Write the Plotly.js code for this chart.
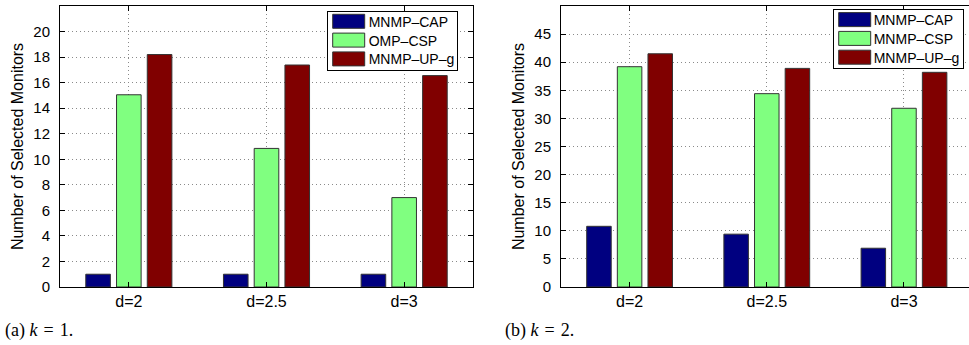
<!DOCTYPE html>
<html><head><meta charset="utf-8">
<script src="https://cdn.plot.ly/plotly-3.0.1.min.js"></script>
<style>html,body{margin:0;padding:0;background:#fff}#chart{width:969px;height:345px}</style>
</head><body><div id="chart"></div>
<script>
const categories = ['d=2', 'd=2.5', 'd=3'];
const seriesNamesA = ['MNMP–CAP', 'OMP–CSP', 'MNMP–UP–g'];
const seriesNamesB = ['MNMP–CAP', 'MNMP–CSP', 'MNMP–UP–g'];
const capA = [1, 1, 1];
const cspA = [15.05, 10.85, 7.0];
const upgA = [18.2, 17.38, 16.55];
const capB = [10.8, 9.4, 6.9];
const cspB = [39.2, 34.4, 31.8];
const upgB = [41.5, 38.9, 38.2];
const yTicksA = [0, 2, 4, 6, 8, 10, 12, 14, 16, 18, 20];
const yTicksB = [0, 5, 10, 15, 20, 25, 30, 35, 40, 45];
const captionA = '(a) <i>k</i>\u2004=\u20041.';
const captionB = '(b) <i>k</i>\u2004=\u20042.';
const colors = ['#000080', '#80FF80', '#800000'];

const W = 969, H = 345;
function bar(name, y, color, xa, ya, lg) {
  return {type: 'bar', name: name, x: categories, y: y, xaxis: xa, yaxis: ya, legend: lg,
    marker: {color: color, line: {color: '#333', width: 1}}, hoverinfo: 'y'};
}
const dataA = [capA, cspA, upgA];
const dataB = [capB, cspB, upgB];
const traces = [];
dataA.forEach((d, i) => traces.push(bar(seriesNamesA[i], d, colors[i], 'x', 'y', 'legend')));
dataB.forEach((d, i) => traces.push(bar(seriesNamesB[i], d, colors[i], 'x2', 'y2', 'legend2')));

const font = 'Liberation Sans, Arial, sans-serif';
function xax(domain, range, anchor) {
  return {domain: domain, range: range, type: 'category', anchor: anchor,
    showline: true, linecolor: '#000', linewidth: 1, mirror: 'ticks',
    ticks: 'inside', ticklen: 5, tickcolor: '#000', showgrid: true,
    gridcolor: '#8a8a8a', griddash: '1px,3px', gridwidth: 1, zeroline: false,
    tickfont: {family: font, size: 16, color: '#000'}, fixedrange: true};
}
function yax(domain, range, ticks, anchor, mirror) {
  return {domain: domain, range: range, tickvals: ticks, anchor: anchor,
    showline: true, linecolor: '#000', linewidth: 1, mirror: mirror,
    ticks: 'inside', ticklen: 5, tickcolor: '#000', showgrid: true,
    gridcolor: '#8a8a8a', griddash: '1px,3px', gridwidth: 1, zeroline: false,
    ticklabelstandoff: 6,
    tickfont: {family: font, size: 15, color: '#000'},
    title: {text: 'Number of Selected Monitors', font: {family: font, size: 16, color: '#000'}, standoff: 5},
    fixedrange: true};
}
const ydom = [(H - 287) / H, (H - 6) / H];
const legendStyle = {bgcolor: '#fff', bordercolor: '#000', borderwidth: 1,
  font: {family: font, size: 14, color: '#000'}, tracegroupgap: 0, xanchor: 'left', yanchor: 'top'};
const layout = {
  width: W, height: H, margin: {l: 0, r: 0, t: 0, b: 0},
  paper_bgcolor: '#fff', plot_bgcolor: '#fff',
  bargap: 0.33, bargroupgap: 0.2, barmode: 'group',
  showlegend: true,
  xaxis: xax([60 / W, 473 / W], [-0.5, 2.5], 'y'),
  yaxis: yax(ydom, [0, 22], yTicksA, 'x', 'ticks'),
  xaxis2: xax([561 / W, 1], [-0.5, 2.474], 'y2'),
  yaxis2: yax(ydom, [0, 50], yTicksB, 'x2', false),
  legend: Object.assign({x: 326.7 / W, y: (H - 11) / H}, legendStyle),
  legend2: Object.assign({x: 832.7 / W, y: (H - 9.3) / H}, legendStyle),
  annotations: [
    {text: captionA, xref: 'paper', yref: 'paper', x: 3 / W, y: (H - 330) / H, xanchor: 'left', yanchor: 'middle',
     showarrow: false, font: {family: 'Liberation Serif, DejaVu Serif, serif', size: 18, color: '#000'}},
    {text: captionB, xref: 'paper', yref: 'paper', x: 503 / W, y: (H - 330) / H, xanchor: 'left', yanchor: 'middle',
     showarrow: false, font: {family: 'Liberation Serif, DejaVu Serif, serif', size: 18, color: '#000'}}
  ]
};

function fixLegend(gd, cls) {
  const lg = gd.querySelector('g.' + cls);
  if (!lg) return;
  const rowY = [10.3, 29.1, 47.9];
  lg.querySelectorAll('g.traces').forEach((t, i) => {
    t.setAttribute('transform', 'translate(1,' + rowY[i] + ')');
    t.querySelectorAll('g.legendpoints path').forEach(p => {
      const d = p.getAttribute('d');
      if (d && d.length > 0) {
        p.setAttribute('d', 'M-16,7H16V-7H-16Z');
        p.setAttribute('transform', 'translate(21,0)');
      }
    });
    const txt = t.querySelector('text.legendtext');
    if (txt) {
      txt.setAttribute('x', '41');
      txt.querySelectorAll('tspan').forEach(s => { if (s.getAttribute('x') !== null) s.setAttribute('x', '41'); });
    }
  });
  const bg = lg.querySelector('rect.bg');
  if (bg) { bg.setAttribute('width', '130'); bg.setAttribute('height', '59'); }
}
Plotly.newPlot('chart', traces, layout, {displayModeBar: false, staticPlot: true}).then(gd => {
  fixLegend(gd, 'legend');
  fixLegend(gd, 'legend2');
});
</script>
</body></html>
